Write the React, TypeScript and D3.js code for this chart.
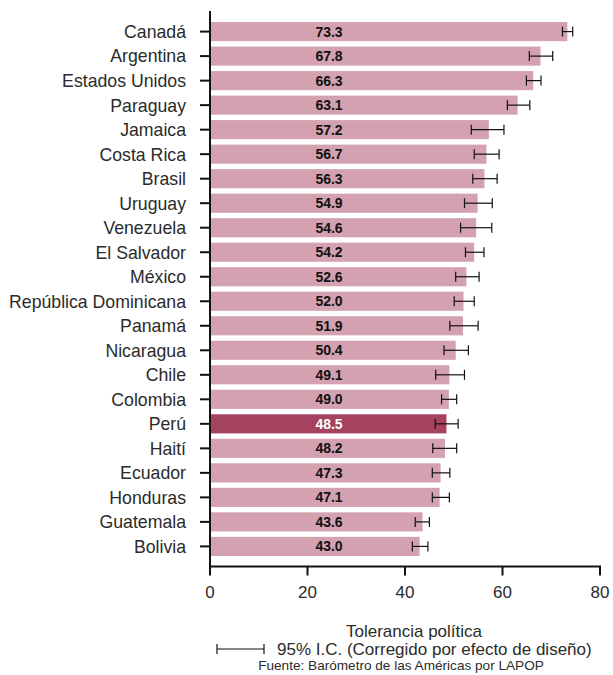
import React from "react";
import * as d3 from "d3";

const countries = ["Canadá","Argentina","Estados Unidos","Paraguay","Jamaica","Costa Rica","Brasil","Uruguay","Venezuela","El Salvador","México","República Dominicana","Panamá","Nicaragua","Chile","Colombia","Perú","Haití","Ecuador","Honduras","Guatemala","Bolivia"];
const values = [73.3,67.8,66.3,63.1,57.2,56.7,56.3,54.9,54.6,54.2,52.6,52.0,51.9,50.4,49.1,49.0,48.5,48.2,47.3,47.1,43.6,43.0];
const ciLow = [72.3,65.5,64.9,61.0,53.6,54.2,53.9,52.2,51.4,52.4,50.4,50.1,49.2,48.0,46.3,47.5,46.2,45.7,45.6,45.6,42.1,41.5];
const ciHigh = [74.4,70.3,67.9,65.6,60.3,59.3,58.9,57.9,57.8,56.2,55.2,54.2,55.0,53.0,52.2,50.6,50.9,50.6,49.2,49.1,45.0,44.7];
const xTicks = [0,20,40,60,80];
const highlight = "Perú";

const W = 613, H = 675;
const font = "'Liberation Sans', Arial, sans-serif";
const txt = "#2b2b2b";

export default function App() {
  const x = d3.scaleLinear().domain([0, 80]).range([210, 600]);
  const y = d3.scaleBand<string>().domain(countries).range([11, 567]).paddingInner(0.22).paddingOuter(0.45);
  const bw = y.bandwidth();
  const axisY = 566.5;
  return (
    <svg width={W} height={H} style={{ position: "absolute", left: 0, top: 0 }}>
      <rect width={W} height={H} fill="#fff" />
      {countries.map((c, i) => {
        const yy = y(c)!;
        const cy = yy + bw / 2;
        const hl = c === highlight;
        return (
          <g key={c}>
            <rect x={x(0)} y={yy} width={x(values[i]) - x(0)} height={bw} fill={hl ? "#A4425F" : "#D3A1B0"} />
            <text x={x(0) + 119} y={cy} dy="0.36em" textAnchor="middle" fontFamily={font} fontWeight="bold" fontSize={14} fill={hl ? "#fff" : "#111"}>
              {values[i].toFixed(1)}
            </text>
            <g stroke="#111" strokeWidth={1.2}>
              <line x1={x(ciLow[i])} x2={x(ciHigh[i])} y1={cy} y2={cy} />
              <line x1={x(ciLow[i])} x2={x(ciLow[i])} y1={cy - 5} y2={cy + 5} />
              <line x1={x(ciHigh[i])} x2={x(ciHigh[i])} y1={cy - 5} y2={cy + 5} />
            </g>
            <line x1={200} x2={210} y1={cy} y2={cy} stroke="#111" strokeWidth={2} />
            <text x={186} y={cy} dy="0.36em" textAnchor="end" fontFamily={font} fontSize={17.7} fill={txt}>{c}</text>
          </g>
        );
      })}
      <line x1={210} x2={210} y1={11} y2={axisY + 1} stroke="#111" strokeWidth={2} />
      <line x1={209} x2={x(80) + 1} y1={axisY} y2={axisY} stroke="#111" strokeWidth={2} />
      {xTicks.map(t => (
        <g key={t}>
          <line x1={x(t)} x2={x(t)} y1={axisY} y2={axisY + 9} stroke="#111" strokeWidth={2} />
          <text x={x(t)} y={598} textAnchor="middle" fontFamily={font} fontSize={17} fill={txt}>{t}</text>
        </g>
      ))}
      <text x={414} y={637} textAnchor="middle" fontFamily={font} fontSize={17} fill={txt}>Tolerancia política</text>
      <g stroke="#111" strokeWidth={1.2}>
        <line x1={217} x2={264} y1={649} y2={649} />
        <line x1={217} x2={217} y1={644} y2={654} />
        <line x1={264} x2={264} y1={644} y2={654} />
      </g>
      <text x={277} y={655} fontFamily={font} fontSize={17} fill={txt}>95% I.C. (Corregido por efecto de diseño)</text>
      <text x={401} y={670} textAnchor="middle" fontFamily={font} fontSize={13.6} fill={txt}>Fuente: Barómetro de las Américas por LAPOP</text>
    </svg>
  );
}
